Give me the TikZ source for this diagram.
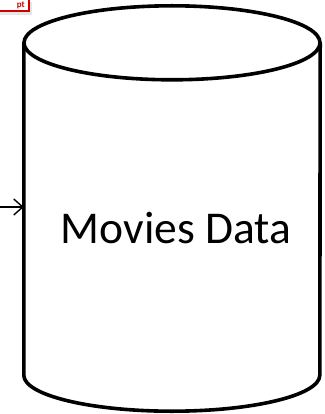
\documentclass[tikz,border=0pt]{standalone}
\usepackage{fontspec}
\setmainfont{Carlito}
\usetikzlibrary{positioning, arrows.meta, shapes}
\tikzstyle{arrow} = [line width=1.4pt,-{Straight Barb[length=9pt,width=16pt]}]
\tikzstyle{dbline} = [line width=3.6pt, line cap=round, line join=round]

\begin{document}
\begin{tikzpicture}[x=1pt, y=1pt]
                \useasboundingbox (0,0) rectangle (324,-414);
                % cut-off label at the top left
                \begin{scope}
                    \clip (0,0) rectangle (324,-414);
                    \fill[black!10] (-28,-2) rectangle (32,-15);
                    \draw[red!80!black, fill=white, line width=1.6pt] (-30,1) rectangle (29,-11);
                    \node[text=red!80!black, font=\bfseries\small, anchor=base east, inner sep=0pt] (tag) at (25,-8) {pt};
                \end{scope}
                % the cylinder
                \node[minimum width=296pt, minimum height=332pt, inner sep=0pt] (db) at (172,-209) {};
                \draw[dbline, fill=white] (db.north west) -- (db.south west)
                    arc[start angle=180, end angle=360, x radius=148, y radius=36]
                    -- (db.north east);
                \draw[dbline] (db.north) ellipse[x radius=148, y radius=37];
                \node[font=\fontsize{45.5}{54}\selectfont, anchor=base, inner sep=0pt] (label) at (176,-243) {Movies Data};
                \coordinate (src) at (-2,-207);
                \draw[arrow] (src) -- (db.west |- src);
              \end{tikzpicture}
\end{document}
